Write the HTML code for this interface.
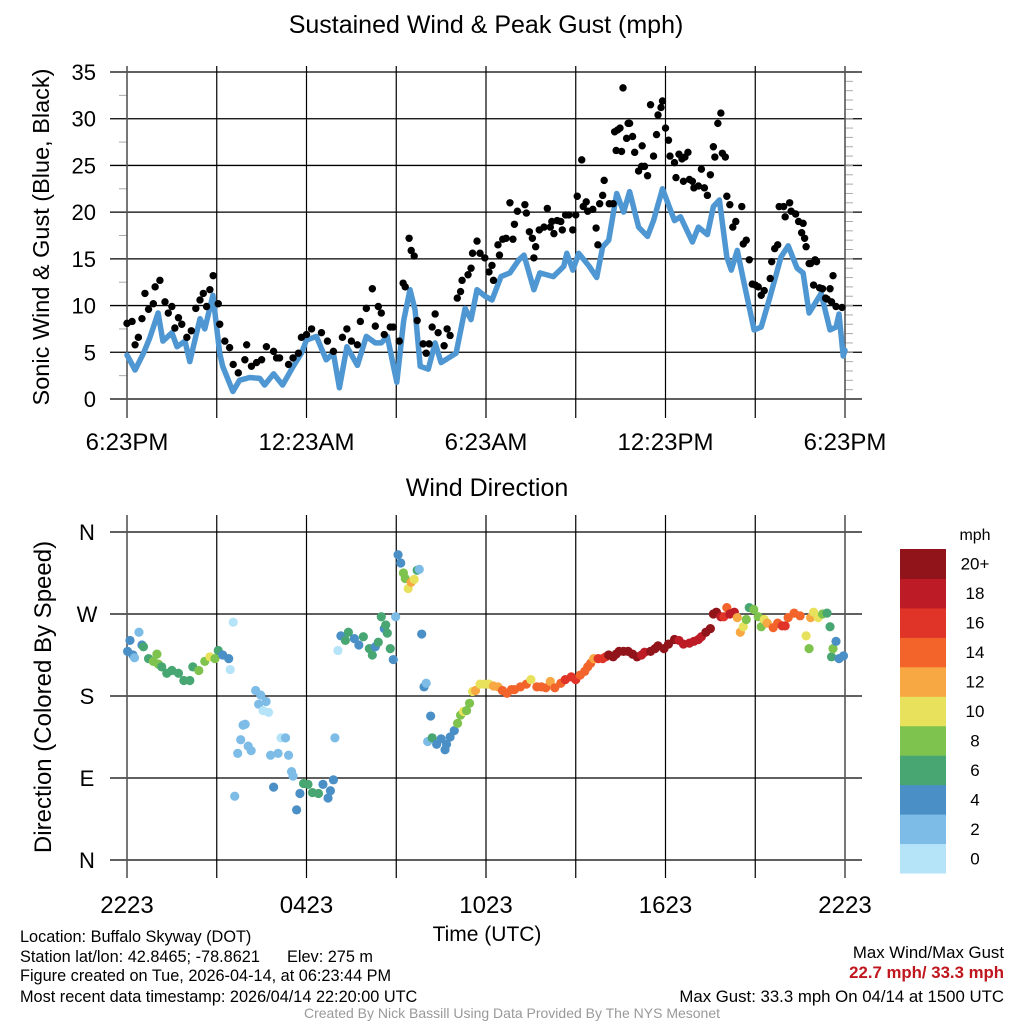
<!DOCTYPE html>
<html><head><meta charset="utf-8"><style>
body{margin:0;background:#fff;}
svg{display:block;font-family:"Liberation Sans",Arial,sans-serif;}
</style></head><body>
<svg id="chart" width="1024" height="1024" viewBox="0 0 1024 1024" xmlns="http://www.w3.org/2000/svg">
<rect width="1024" height="1024" fill="#fff"/>
<g id="top-grid"></g>
<g id="bot-grid"></g>
<g id="top-marks"></g>
<g id="bot-marks"></g>
<text x="486" y="33" font-size="25" text-anchor="middle">Sustained Wind &amp; Peak Gust (mph)</text>
<text transform="translate(49,237) rotate(-90)" font-size="23.5" text-anchor="middle">Sonic Wind &amp; Gust (Blue, Black)</text>
<text x="487" y="496" font-size="25" text-anchor="middle">Wind Direction</text>
<text transform="translate(51,697) rotate(-90)" font-size="24" text-anchor="middle">Direction (Colored By Speed)</text>
<text x="487" y="941" font-size="21" text-anchor="middle">Time (UTC)</text>
<g id="legend"></g>
<g font-size="16.3">
<text x="20" y="942">Location: Buffalo Skyway (DOT)</text>
<text x="20" y="962">Station lat/lon: 42.8465; -78.8621&#160;&#160;&#160;&#160;&#160;&#160;Elev: 275 m</text>
<text x="20" y="981">Figure created on Tue, 2026-04-14, at 06:23:44 PM</text>
<text x="20" y="1002">Most recent data timestamp: 2026/04/14 22:20:00 UTC</text>
</g>
<g font-size="16.8" text-anchor="end">
<text x="1004" y="958">Max Wind/Max Gust</text>
<text x="1004" y="978" fill="#c0161e" font-weight="bold">22.7 mph/ 33.3 mph</text>
<text x="1004" y="1002">Max Gust: 33.3 mph On 04/14 at 1500 UTC</text>
</g>
<text x="512" y="1018" font-size="14" fill="#999" text-anchor="middle">Created By Nick Bassill Using Data Provided By The NYS Mesonet</text>
</svg>
<script>
const sustTimes=[0,0.27,0.55,0.77,1.04,1.2,1.5,1.67,1.94,2.1,2.44,2.6,2.87,3.1,3.2,3.54,3.76,4.1,4.44,4.6,4.9,5.2,5.56,5.83,6,6.33,6.66,6.9,7.1,7.35,7.7,8.0,8.3,8.5,8.7,9.02,9.25,9.46,9.63,9.8,10.07,10.3,10.5,11.0,11.3,11.5,11.7,11.97,12.2,12.5,12.8,13.1,13.27,13.6,13.8,14.25,14.6,14.7,14.9,15.1,15.45,15.7,15.9,16.1,16.37,16.6,16.8,17.1,17.4,17.6,17.9,18.3,18.5,18.9,19.1,19.4,19.6,19.8,20.05,20.2,20.4,20.6,20.96,21.2,21.5,21.86,22.1,22.4,22.6,22.8,23.2,23.5,23.7,23.8,23.94,24];
const sustValues=[4.7,3.1,4.9,6.6,9.2,6.2,7.1,5.6,6.2,4.0,8.6,7.5,11.1,4.9,3.5,0.8,2.0,2.3,2.2,1.5,2.7,1.5,3.5,4.9,6.3,6.7,4.2,4.9,1.2,5.6,3.6,6.7,6.0,6.0,6.7,1.8,8.4,11.7,9.5,3.5,3.2,6.0,3.9,4.9,9.7,8.5,11.7,11.0,10.6,13.1,13.5,14.9,15.4,11.7,13.5,13.1,14.2,15.6,13.8,15.6,14.2,13.0,16.3,17.0,22.0,20.0,22.2,18.4,17.4,19.1,22.5,19.1,19.5,16.8,18.4,17.6,20.6,21.3,15.2,13.8,15.9,12.8,7.4,7.7,11.0,15.2,16.4,14.0,13.5,9.2,11.3,7.4,7.7,9.1,4.6,5.2];
const gustTimes=[0,0.17,0.27,0.38,0.5,0.6,0.72,0.88,0.94,1.1,1.27,1.38,1.5,1.6,1.72,1.83,2.0,2.15,2.3,2.44,2.55,2.66,2.77,2.88,3.05,3.1,3.27,3.43,3.55,3.72,3.94,4.0,4.16,4.33,4.5,4.66,4.9,5.0,5.1,5.4,5.55,5.73,5.83,6.0,6.17,6.5,6.7,6.9,7.2,7.35,7.5,7.7,7.8,8.0,8.2,8.3,8.4,8.5,8.6,8.8,8.9,9.1,9.23,9.3,9.43,9.5,9.6,9.7,9.9,10.0,10.1,10.2,10.3,10.4,10.6,10.7,10.8,11.04,11.15,11.2,11.4,11.5,11.55,11.7,11.8,11.96,12.1,12.2,12.25,12.4,12.45,12.56,12.67,12.8,12.9,12.95,13.05,13.3,13.35,13.45,13.55,13.6,13.66,13.78,13.94,14.05,14.15,14.2,14.27,14.38,14.5,14.55,14.66,14.77,14.9,15.0,15.05,15.2,15.25,15.35,15.4,15.57,15.68,15.74,15.8,15.9,15.95,16.12,16.25,16.3,16.35,16.4,16.48,16.53,16.58,16.7,16.75,16.8,16.9,16.97,17.1,17.2,17.22,17.3,17.4,17.5,17.6,17.7,17.75,17.85,17.9,18.0,18.1,18.15,18.3,18.35,18.45,18.55,18.6,18.65,18.75,18.8,18.9,18.95,19.1,19.2,19.3,19.4,19.5,19.6,19.65,19.75,19.85,19.9,20.0,20.05,20.15,20.25,20.35,20.55,20.6,20.7,20.8,20.9,21.0,21.1,21.2,21.3,21.5,21.55,21.65,21.75,21.8,21.95,22.0,22.15,22.2,22.35,22.45,22.55,22.6,22.65,22.7,22.8,22.85,22.95,23.0,23.05,23.15,23.25,23.35,23.4,23.5,23.55,23.6,23.7,23.9,24];
const gustValues=[8.1,8.3,5.8,6.6,8.6,11.3,9.6,10.2,12.0,12.7,10.4,9.2,9.9,7.6,8.7,8.0,6.6,7.3,9.7,10.6,11.3,9.9,11.7,13.2,10.2,8.0,6.2,5.5,3.7,2.8,4.2,5.8,3.5,3.9,4.2,5.6,5.1,4.4,4.4,3.7,4.4,4.9,6.6,6.9,7.5,7.1,6.2,5.1,6.6,7.5,6.2,5.8,8.3,9.7,11.8,7.8,9.9,9.2,6.9,7.7,7.7,6.2,12.4,12.0,17.2,15.9,15.3,8.4,5.9,4.9,5.9,7.7,9.1,7.1,5.7,7.5,6.8,10.8,11.5,12.7,13.3,14.0,15.6,16.9,15.6,15.1,13.6,14.3,12.7,16.5,15.4,17.1,17.2,21.0,17.1,18.7,20.1,20.8,19.9,17.9,17.2,15.1,16.3,18.1,18.4,20.4,18.4,19.0,17.7,19.1,19.0,18.1,19.7,19.7,18.1,19.7,21.7,25.6,20.6,21.1,20.1,20.3,18.3,16.5,20.9,21.8,23.4,20.9,20.9,28.6,26.6,28.8,29.0,26.5,33.3,27.9,29.5,29.5,28.1,26.4,24.4,24.9,27.1,24.9,23.9,31.5,26.0,28.3,30.4,31.2,31.9,29.0,27.7,26.0,25.3,23.7,26.2,25.7,23.3,25.9,26.4,23.5,23.3,22.6,22.8,24.6,22.6,21.8,24.0,27.0,25.9,29.5,30.6,26.3,25.9,21.7,20.8,18.4,19.0,20.6,16.6,17.0,14.9,12.3,12.2,12.0,11.1,11.6,12.9,14.7,16.1,16.5,20.6,20.6,19.5,21.0,20.1,19.8,19.0,17.8,18.8,17.2,16.3,14.5,14.5,12.2,14.9,14.7,11.9,11.8,10.8,10.7,11.8,10.4,13.2,9.9,9.8];
const dirTimes=[0.02,0.1,0.2,0.25,0.4,0.5,0.55,0.72,0.88,1.0,
1.05,1.16,1.33,1.5,1.72,1.9,2.1,2.2,2.4,2.6,
2.77,2.94,3.05,3.2,3.4,3.45,3.55,3.6,3.7,3.8,
3.88,3.95,4.05,4.15,4.3,4.4,4.47,4.55,4.65,4.73,
4.8,4.9,5.05,5.15,5.3,5.4,5.5,5.55,5.67,5.78,
5.9,6.05,6.2,6.4,6.55,6.72,6.8,6.9,6.95,7.05,
7.15,7.3,7.4,7.6,7.75,7.9,8.1,8.2,8.3,8.4,
8.5,8.6,8.65,8.7,8.8,8.9,8.98,9.06,9.15,9.24,
9.3,9.4,9.5,9.6,9.7,9.77,9.85,9.93,10.0,10.05,
10.15,10.2,10.35,10.5,10.63,10.68,10.8,10.94,11.05,11.15,
11.25,11.35,11.45,11.55,11.65,11.8,11.95,12.1,12.25,12.4,
12.55,12.7,12.85,12.95,13.15,13.35,13.5,13.7,13.85,14.0,
14.15,14.3,14.5,14.65,14.85,15.0,15.15,15.3,15.4,15.5,
15.6,15.75,15.9,16.0,16.1,16.25,16.35,16.45,16.6,16.75,
16.9,17.05,17.2,17.3,17.5,17.65,17.75,17.95,18.1,18.3,
18.45,18.6,18.8,18.95,19.1,19.2,19.35,19.5,19.6,19.7,
19.85,19.95,20.05,20.15,20.3,20.4,20.5,20.6,20.7,20.8,
20.95,21.1,21.2,21.3,21.4,21.6,21.75,21.9,22.0,22.1,
22.3,22.5,22.7,22.8,22.85,22.95,23.1,23.25,23.4,23.5,
23.55,23.6,23.7,23.8,23.95];
const dirValues=[229,241,225,222,250,236,234,221,218,226,
215,212,205,208,205,197,197,212,208,218,
223,221,230,225,221,209,261,70,117,132,
148,149,125,120,186,171,181,164,174,162,
115,80,117,134,134,115,97,92,55,73,
84,83,74,73,83,68,76,88,134,230,
246,241,250,243,236,245,232,225,234,239,
267,254,258,249,232,220,267,335,326,315,
309,298,305,308,318,319,248,190,194,130,
158,134,127,133,121,127,135,142,150,159,
163,164,172,185,186,193,193,193,191,190,
186,183,187,187,190,193,198,190,190,189,
196,189,194,198,201,198,203,207,212,216,
221,221,221,223,225,223,226,229,229,229,
226,223,225,228,229,232,235,232,237,242,
241,237,238,240,242,245,250,254,270,272,
267,267,277,270,272,266,250,256,264,277,
275,267,256,264,260,255,260,257,257,266,
271,268,246,232,266,272,266,270,271,256,
223,232,240,221,224];
const dirSpeeds=[4.5,4.5,4.5,2.5,2.5,4.5,6.5,6.5,8.5,8.5,
8.5,6.5,6.5,6.5,6.5,6.5,6.5,6.5,8.5,8.5,
10.5,8.5,6.5,4.5,4.5,1,1,2.5,2.5,2.5,
2.5,2.5,2.5,2.5,2.5,2.5,2.5,1,2.5,1,
2.5,4.5,2.5,1,2.5,2.5,2.5,2.5,4.5,4.5,
6.5,6.5,6.5,6.5,4.5,4.5,4.5,4.5,2.5,1,
4.5,6.5,6.5,4.5,4.5,6.5,6.5,6.5,4.5,6.5,
6.5,4.5,6.5,6.5,6.5,4.5,2.5,4.5,4.5,8.5,
8.5,10.5,12.5,10.5,6.5,2.5,4.5,4.5,2.5,2.5,
4.5,6.5,4.5,4.5,4.5,4.5,4.5,4.5,8.5,8.5,
10.5,8.5,8.5,10.5,12.5,10.5,10.5,10.5,12.5,12.5,
14.5,14.5,14.5,14.5,14.5,14.5,10.5,14.5,14.5,14.5,
12.5,14.5,14.5,16.5,16.5,16.5,14.5,14.5,14.5,14.5,
12.5,16.5,16.5,16.5,20.5,20.5,20.5,20.5,20.5,20.5,
20.5,20.5,18.5,18.5,20.5,20.5,20.5,20.5,20.5,20.5,
18.5,18.5,18.5,18.5,18.5,18.5,20.5,20.5,20.5,20.5,
18.5,16.5,14.5,18.5,18.5,12.5,12.5,10.5,8.5,6.5,
8.5,8.5,8.5,10.5,12.5,14.5,14.5,16.5,16.5,14.5,
14.5,14.5,10.5,8.5,12.5,10.5,10.5,8.5,6.5,6.5,
6.5,8.5,4.5,4.5,4.5];
const topTicks=[0,5,10,15,20,25,30,35];
const topXLabels=["6:23PM","12:23AM","6:23AM","12:23PM","6:23PM"];
const botXLabels=["2223","0423","1023","1623","2223"];
const dirLabels=["N","E","S","W","N"];
const legendLabels=["0","2","4","6","8","10","12","14","16","18","20+"];
const legendColors=["#b5e3f8","#7dbce6","#4a8fc6","#47a672","#7dc34d","#e8e15c","#f7a843","#f2642a","#df3427","#bd1b25","#91141b"];

const NS="http://www.w3.org/2000/svg";
const X0=127,X1=845;
function xs(t){return X0+(X1-X0)*t/24;}
function ysTop(v){return 399-v*(399-72)/35;}
function ysDir(d){return 860-d*(860-532)/360;}
function colorFor(s){let i=Math.min(10,Math.floor(s/2));return legendColors[i];}
function mk(parent,tag,attrs){const e=document.createElementNS(NS,tag);for(const k in attrs)e.setAttribute(k,attrs[k]);parent.appendChild(e);return e;}

const tg=document.getElementById('top-grid');
topTicks.forEach(v=>{
  const l=mk(tg,'line',{x1:110,x2:862,y1:ysTop(v),y2:ysTop(v),stroke:'#000','stroke-width':1.3});
  
  
  const t=mk(tg,'text',{x:96,y:ysTop(v)+8,'font-size':22,'text-anchor':'end'});t.textContent=v;
  
  
});
for(let v=2.5;v<35;v+=5){mk(tg,'line',{x1:119,x2:127,y1:ysTop(v),y2:ysTop(v),stroke:'#aaa','stroke-width':1});}
for(let v=1;v<35;v++){mk(tg,'line',{x1:845,x2:853,y1:ysTop(v),y2:ysTop(v),stroke:'#aaa','stroke-width':1});}
for(let h=0;h<=24;h+=3){
  const l=mk(tg,'line',{x1:xs(h),x2:xs(h),y1:66,y2:418,stroke:(h===0||h===24)?'#555':'#000','stroke-width':(h===0||h===24)?1.6:1.2});
  
  
}
topXLabels.forEach((s,i)=>{const t=mk(tg,'text',{x:xs(i*6),y:450,'font-size':24,'text-anchor':'middle'});t.textContent=s;
  
  });

const bg=document.getElementById('bot-grid');
dirLabels.forEach((s,i)=>{
  const y=ysDir(i*90);
  const l=mk(bg,'line',{x1:110,x2:862,y1:y,y2:y,stroke:'#000','stroke-width':1.3});
  
  
  const t=mk(bg,'text',{x:87,y:y+8,'font-size':22,'text-anchor':'middle'});t.textContent=s;
  
  
});
for(let h=0;h<=24;h+=3){
  const l=mk(bg,'line',{x1:xs(h),x2:xs(h),y1:515,y2:878,stroke:(h===0||h===24)?'#555':'#000','stroke-width':(h===0||h===24)?1.6:1.2});
  
  
}
botXLabels.forEach((s,i)=>{const t=mk(bg,'text',{x:xs(i*6),y:913,'font-size':24,'text-anchor':'middle'});t.textContent=s;
  
  });

const tm=document.getElementById('top-marks');
const pts=sustTimes.map((t,i)=>xs(t).toFixed(1)+','+ysTop(sustValues[i]).toFixed(1)).join(' ');
const pl=mk(tm,'polyline',{points:pts,fill:'none',stroke:'#4f97d2','stroke-width':5.5,'stroke-linejoin':'round','stroke-linecap':'round'});


const nGust=Math.min(gustTimes.length,gustValues.length);
for(let i=0;i<nGust;i++){
  const c=mk(tm,'circle',{cx:xs(gustTimes[i]),cy:ysTop(gustValues[i]),r:3.7,fill:'#000'});
  
  
}

const bm=document.getElementById('bot-marks');
const nDir=Math.min(dirTimes.length,dirValues.length,dirSpeeds.length);
for(let i=0;i<nDir;i++){
  const c=mk(bm,'circle',{cx:xs(dirTimes[i]),cy:ysDir(dirValues[i]),r:4.6,fill:colorFor(dirSpeeds[i])});
  
  
}

const lg=document.getElementById('legend');
const lt=mk(lg,'text',{x:975,y:540,'font-size':16,'text-anchor':'middle'});lt.textContent='mph';


const LT=549,LB=873,bh=(LB-LT)/11;
legendColors.forEach((c,i)=>{
  const y=LB-(i+1)*bh;
  const r=mk(lg,'rect',{x:900,y:y,width:46,height:bh+0.5,fill:c});
  
  
  const t=mk(lg,'text',{x:975,y:y+bh/2+6,'font-size':17,'text-anchor':'middle'});t.textContent=legendLabels[i];
  
  
});
</script>
</body></html>
